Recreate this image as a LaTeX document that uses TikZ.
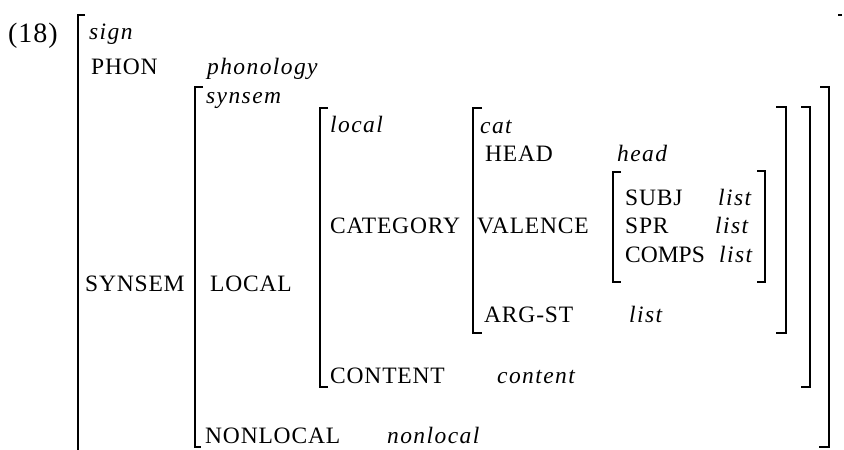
\documentclass[tikz,border=0pt]{standalone}
\usepackage{fontspec}
\setmainfont[LetterSpace=3.5,ItalicFeatures={LetterSpace=6}]{Liberation Serif}
\newfontfamily\tightfont[LetterSpace=0]{Liberation Serif}
\begin{document}
\begin{tikzpicture}[x=1pt,y=-1pt,
  lbl/.style={anchor=base west,inner sep=0pt,font=\fontsize{23.5}{27}\selectfont},
  typ/.style={lbl,font=\fontsize{23.5}{27}\selectfont\itshape},
  brk/.style={line width=1.6pt,line cap=butt,line join=miter}]
\useasboundingbox (0,0) rectangle (844,450);
% brackets
\draw[brk] (85,15) -- (78,15) -- (78,452);
\draw[brk] (203,87) -- (195,87) -- (195,447) -- (201,447);
\draw[brk] (820,87) -- (829,87) -- (829,447) -- (819,447);
\draw[brk] (328,108) -- (320,108) -- (320,387) -- (328,387);
\draw[brk] (801,107) -- (810,107) -- (810,387) -- (801,387);
\draw[brk] (482,108) -- (473,108) -- (473,333) -- (482,333);
\draw[brk] (776,107) -- (786,107) -- (786,333) -- (776,333);
\draw[brk] (621,172) -- (613,172) -- (613,282) -- (621,282);
\draw[brk] (757,171) -- (765,171) -- (765,282) -- (757,282);
\draw[line width=1.2pt] (838,15) -- (842,15);
% texts
\node[lbl,font=\fontsize{28}{32}\selectfont] (num) at (8,42) {(18)};
\node[typ] (sign) at (89,39) {sign};
\node[lbl] (phon) at (91,74) {PHON};
\node[typ] (phonv) at (207,74) {phonology};
\node[typ] (synsem) at (206,103) {synsem};
\node[typ] (local) at (330,132) {local};
\node[typ] (cat) at (480,133) {cat};
\node[lbl] (head) at (485,161) {HEAD};
\node[typ] (headv) at (617,161) {head};
\node[lbl] (subj) at (625,205) {SUBJ};
\node[typ] (subjv) at (718,205) {list};
\node[lbl] (spr) at (625,233) {SPR};
\node[typ] (sprv) at (715,233) {list};
\node[lbl,font=\fontsize{23.5}{27}\tightfont] (comps) at (625,262) {COMPS};
\node[typ] (compsv) at (719,262) {list};
\node[lbl] (category) at (330,233) {CATEGORY};
\node[lbl] (valence) at (477,233) {VALENCE};
\node[lbl] (synsemf) at (85,291) {SYNSEM};
\node[lbl] (localf) at (210,291) {LOCAL};
\node[lbl] (argst) at (484,322) {ARG-ST};
\node[typ] (argstv) at (629,322) {list};
\node[lbl] (content) at (330,383) {CONTENT};
\node[typ] (contentv) at (497,383) {content};
\node[lbl] (nonlocal) at (205,443) {NONLOCAL};
\node[typ] (nonlocalv) at (387,443) {nonlocal};
\end{tikzpicture}
\end{document}
